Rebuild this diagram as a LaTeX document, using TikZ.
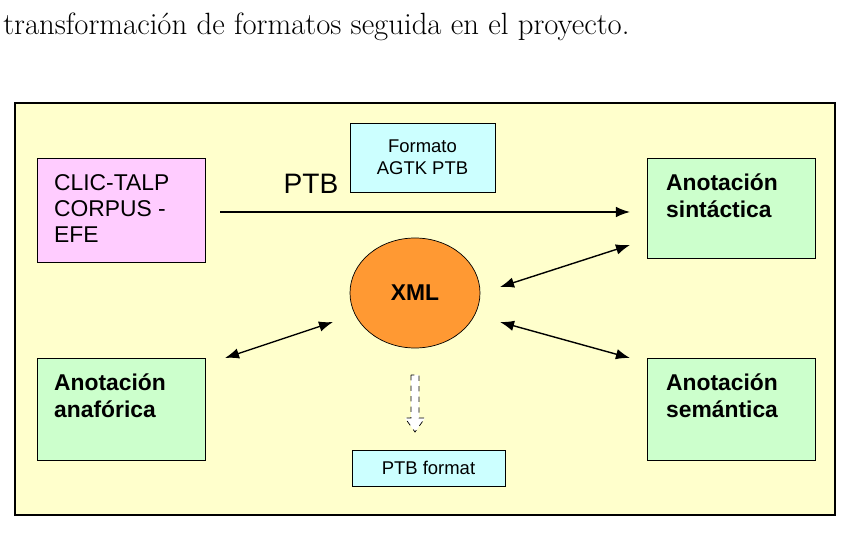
\documentclass[tikz,border=0pt]{standalone}
\usepackage{fontspec}
\setsansfont{Liberation Sans}
\usetikzlibrary{arrows.meta,shapes.geometric}
\definecolor{paper}{RGB}{255,255,204}
\definecolor{pinkbox}{RGB}{255,204,255}
\definecolor{cyanbox}{RGB}{204,255,255}
\definecolor{greenbox}{RGB}{204,255,204}
\definecolor{orangexml}{RGB}{255,153,51}
\tikzset{
  lbl/.style={anchor=north west,align=left,font=\sffamily\fontsize{13}{15}\selectfont},
  blbl/.style={lbl,font=\sffamily\bfseries\fontsize{13}{15}\selectfont},
  small/.style={align=center,font=\sffamily\fontsize{10.5}{12.5}\selectfont},
  twoway/.style={{Latex[length=8pt,width=6pt]}-{Latex[length=8pt,width=6pt]},thick}
}
\begin{document}
\begin{tikzpicture}[x=0.02cm,y=-0.02cm]
  \useasboundingbox (0,0) rectangle (850,537);
  \node[anchor=west,inner sep=0pt,font=\fontsize{17.5}{20}\selectfont] (cap) at (3,27) {transformación de formatos seguida en el proyecto.};
  % frame
  \draw[line width=1.6pt,fill=paper] (15,103) rectangle (835,515);
  % boxes
  \draw[fill=pinkbox] (37,158) rectangle (205,262);
  \node[lbl] (clic) at (48,168) {CLIC-TALP\\CORPUS -\\EFE};
  \draw[fill=cyanbox] (350,123) rectangle (495,192);
  \node[small] (agtk) at (422.5,157) {Formato\\AGTK PTB};
  \draw[fill=greenbox] (647,158) rectangle (815,258);
  \node[blbl] (sint) at (660,168) {Anotación\\sintáctica};
  \draw[fill=greenbox] (37,358) rectangle (205,460);
  \node[blbl] (anaf) at (48,368) {Anotación\\anafórica};
  \draw[fill=greenbox] (647,358) rectangle (815,460);
  \node[blbl] (sem) at (660,368) {Anotación\\semántica};
  \draw[fill=cyanbox] (352,450) rectangle (505,486);
  \node[small] (ptbf) at (428.5,468) {PTB format};
  \node[ellipse,draw,fill=orangexml,minimum width=130*0.02cm,minimum height=110*0.02cm,font=\sffamily\bfseries\fontsize{13}{15}\selectfont] (xml) at (415,293) {XML};
  % connectors
  \coordinate (ptbA) at (220,212);
  \coordinate (ptbB) at (630,212);
  \draw[-{Latex[length=8pt,width=6pt]},thick] (ptbA) -- (ptbB);
  \node[font=\sffamily\fontsize{16}{18}\selectfont] (ptb) at (311,184) {PTB};
  \coordinate (s1) at (500,287); \coordinate (s2) at (630,245);
  \coordinate (m1) at (500,322); \coordinate (m2) at (630,358);
  \coordinate (a1) at (225,358); \coordinate (a2) at (333,322);
  \draw[twoway] (s1) -- (s2);
  \draw[twoway] (m1) -- (m2);
  \draw[twoway] (a1) -- (a2);
  % hollow dashed arrow
  \draw[dashed,fill=white] (411,375) -- (411,418) -- (405,418) -- (415,432) -- (425,418) -- (419,418) -- (419,375) -- cycle;
\end{tikzpicture}
\end{document}
